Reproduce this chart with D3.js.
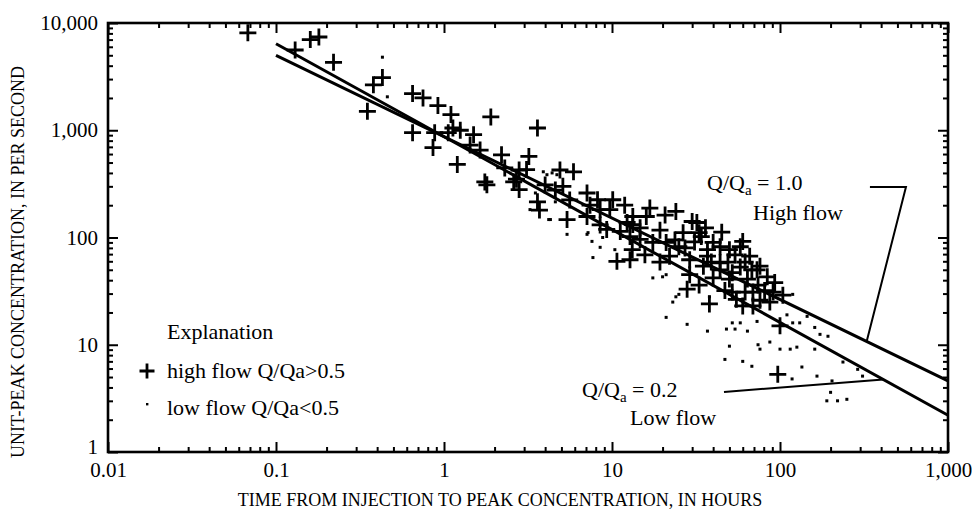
<!DOCTYPE html>
<html><head><meta charset="utf-8">
<script src="https://cdn.jsdelivr.net/npm/d3@7"></script>
<style>
body{margin:0;background:#fff}
svg{display:block}
text{font-family:"Liberation Serif","Times New Roman",Times,serif;fill:#000}
</style></head>
<body><svg id="c" width="972" height="514"></svg>
<script>
// ---- data ----
const xTickValues = [0.01, 0.1, 1, 10, 100, 1000];
const xTickLabels = ["0.01", "0.1", "1", "10", "100", "1,000"];
const yTickValues = [1, 10, 100, 1000, 10000];
const yTickLabels = ["1", "10", "100", "1,000", "10,000"];

// high flow Q/Qa>0.5  [hours, per second]
const highFlowPoints = [
 [0.068,8100],[0.16,7000],[0.18,7400],[0.13,5600],[0.22,4300],[0.38,2650],[0.43,3100],[0.35,1500],
 [0.65,2200],[0.75,2000],[0.92,1700],[1.1,1400],[0.65,950],[0.88,950],[0.86,690],[1.13,1050],
 [1.2,480],[1.9,1330],[3.6,1050],[1.25,1000],[1.5,910],[1.06,950],[1.8,310],[2.2,590],[3.2,570],
 [3.1,430],[2.7,350],[2.8,280],[5.9,410],[5.1,300],[3.6,215],[3.7,180],[5.4,147],[7.1,260],
 [8.2,225],[10.1,225],[9.7,182],[13.3,157],[12.8,102],[7.1,157],[9.3,119],[10.7,60],[13.2,77],
 [1.75,330],[2.6,330],[8.5,182],[11.2,114],[13.3,132],[16,157],[24,175],[30,141],[14.7,96],
 [17.5,90],[21,90],[25,82],[33,111],[40,90],[50,77],[58,82],[29,62],[37,67],[44,58],[52,47],
 [28,33],[38,24],[60,23],[52,31],[12.3,138],[32,138],[26.5,111],[34,102],[60,92],[44,82],[37,77],
 [66,67],[76,54],[58,53],[44,50],[35,54],[22,67],[12.8,62],[84,43],[64,41],[50,41],[40,42],
 [104,29],[69,31],[87,25],[69,23],[55,26.5],[100,15],[97,5.3],[73,50],[91,31],
 [11.9,200],[14.7,123],[16.8,188],[19.3,117],[20.7,162],[23.7,95],[27.2,80],[31,91],[36,123],
 [39,59],[45,112],[49,59],[54,69],[62,59],[68,50],[74,36],[81,32],[93,38],[29,45],[33,36],
 [47,32],[62,31],[76,26],[19.3,59],[15.7,69],[8.5,131],[7.4,200],[5.6,224],[4.6,277],[4.0,309],
 [2.8,426],[2.3,445],[1.64,654],[1.43,728],[4.9,426]
];
// low flow Q/Qa<0.5
const lowFlowPoints = [
 [0.43,4800],[0.46,2050],[3.9,410],[4.4,400],[4.3,147],[5.4,107],[7.1,107],[7.6,92],[8.8,100],
 [7.7,65],[3.25,182],[3.5,260],[4.1,385],[4.7,385],[4.6,215],[4.2,147],[7.2,111],[10.4,77],
 [17.5,42],[21,45],[24,28],[23,25],[21,18],[28,15.5],[37,13.4],[48,14],[52,16],[50,9.7],[8.5,81],
 [20,43],[25,29.5],[38,28],[73,16.5],[110,19],[119,29.5],[54,14],[64,13.4],[58,16],[119,16],
 [131,16],[145,18.4],[161,14.5],[173,12.5],[193,12],[74,10],[76,9.1],[87,10.6],[100,9.1],
 [115,9.1],[126,9.5],[161,9.1],[47,7.3],[60,7],[68,6.3],[118,4.8],[135,6.2],[166,5.1],[237,6.9],
 [290,5.9],[310,5.1],[204,4.6],[200,3.6],[190,3.0],[220,3.0],[250,3.1]
];
// fitted lines
const highFlowLine = [[0.1,5000],[1000,4.6]];   // Q/Qa = 1.0
const lowFlowLine  = [[0.1,6400],[1000,2.2]];   // Q/Qa = 0.2
// annotation leader lines (data space)
const highLeader = [[343,296],[562,296],[328,10.7]];
const lowLeader  = [[46.4,3.63],[412,4.73]];

// ---- chart ----
const svg = d3.select("#c");
const L = 108, R = 948, T = 23, B = 452;
const x = d3.scaleLog().domain([0.01,1000]).range([L,R]);
const y = d3.scaleLog().domain([1,10000]).range([B,T]);

const xMinor = x.ticks().filter(v => !xTickValues.includes(v));
const yMinor = y.ticks().filter(v => !yTickValues.includes(v));
const MAJ = 10, MIN = 5;

function styleAxis(g){
  g.select(".domain").remove();
  g.attr("font-family",null);
  g.selectAll(".tick line").attr("stroke","#000").attr("stroke-width",2);
  g.selectAll("text").attr("font-size",21).attr("fill","#000");
}
// bottom
svg.append("g").attr("transform",`translate(0,${B})`)
  .call(d3.axisBottom(x).tickValues(xTickValues).tickFormat((d,i)=>xTickLabels[i]).tickSizeInner(-MAJ).tickSizeOuter(0).tickPadding(10)).call(styleAxis);
svg.append("g").attr("transform",`translate(0,${B})`)
  .call(d3.axisBottom(x).tickValues(xMinor).tickFormat("").tickSizeInner(-MIN).tickSizeOuter(0)).call(styleAxis);
// top
svg.append("g").attr("transform",`translate(0,${T})`)
  .call(d3.axisTop(x).tickValues(xTickValues).tickFormat("").tickSizeInner(-MAJ).tickSizeOuter(0)).call(styleAxis);
svg.append("g").attr("transform",`translate(0,${T})`)
  .call(d3.axisTop(x).tickValues(xMinor).tickFormat("").tickSizeInner(-MIN).tickSizeOuter(0)).call(styleAxis);
// left
const yAx = svg.append("g").attr("transform",`translate(${L},0)`)
  .call(d3.axisLeft(y).tickValues(yTickValues).tickFormat((d,i)=>yTickLabels[i]).tickSizeInner(-MAJ).tickSizeOuter(0).tickPadding(10)).call(styleAxis);
yAx.selectAll(".tick text").filter(d=>d===1).attr("dy","0.05em");
svg.append("g").attr("transform",`translate(${L},0)`)
  .call(d3.axisLeft(y).tickValues(yMinor).tickFormat("").tickSizeInner(-MIN).tickSizeOuter(0)).call(styleAxis);
// right
svg.append("g").attr("transform",`translate(${R},0)`)
  .call(d3.axisRight(y).tickValues(yTickValues).tickFormat("").tickSizeInner(-MAJ).tickSizeOuter(0)).call(styleAxis);
svg.append("g").attr("transform",`translate(${R},0)`)
  .call(d3.axisRight(y).tickValues(yMinor).tickFormat("").tickSizeInner(-MIN).tickSizeOuter(0)).call(styleAxis);

// frame
svg.append("rect").attr("x",L).attr("y",T).attr("width",R-L).attr("height",B-T)
  .attr("fill","none").attr("stroke","#000").attr("stroke-width",2.6);

// points
const plusPath = "M-8.5,0H8.5M0,-8.5V8.5";
svg.append("g").selectAll("path").data(highFlowPoints).join("path")
  .attr("d",plusPath).attr("transform",d=>`translate(${x(d[0])},${y(d[1])})`)
  .attr("stroke","#000").attr("stroke-width",2.8).attr("fill","none");
svg.append("g").selectAll("rect").data(lowFlowPoints).join("rect")
  .attr("x",d=>x(d[0])-1.5).attr("y",d=>y(d[1])-1.5).attr("width",3).attr("height",3).attr("fill","#000");

// fitted lines
const line = d3.line().x(d=>x(d[0])).y(d=>y(d[1]));
[highFlowLine, lowFlowLine].forEach(ln=>{
  svg.append("path").attr("d",line(ln)).attr("fill","none").attr("stroke","#000").attr("stroke-width",3);
});
[highLeader, lowLeader].forEach(ln=>{
  svg.append("path").attr("d",line(ln)).attr("fill","none").attr("stroke","#000").attr("stroke-width",2);
});

// annotations
function qLabel(xp, yp, val){
  const t = svg.append("text").attr("x",xp).attr("y",yp).attr("font-size",22);
  t.append("tspan").text("Q/Q");
  t.append("tspan").text("a").attr("font-size",15).attr("dy",5);
  t.append("tspan").text(" = " + val).attr("dy",-5);
}
qLabel(707,190,"1.0");
svg.append("text").attr("x",753).attr("y",220).attr("font-size",22).text("High flow");
qLabel(582,397,"0.2");
svg.append("text").attr("x",630).attr("y",425).attr("font-size",22).text("Low flow");

// legend
svg.append("text").attr("x",167).attr("y",339).attr("font-size",22).text("Explanation");
svg.append("path").attr("d","M-7.5,0H7.5M0,-7.5V7.5").attr("transform","translate(147,371)")
  .attr("stroke","#000").attr("stroke-width",2.8);
svg.append("text").attr("x",167).attr("y",378).attr("font-size",22).text("high flow Q/Qa>0.5");
svg.append("rect").attr("x",146).attr("y",403).attr("width",2.4).attr("height",2.4).attr("fill","#000");
svg.append("text").attr("x",167).attr("y",415).attr("font-size",22).text("low flow Q/Qa<0.5");

// axis titles
svg.append("text").attr("x",(L+R)/2 - 28).attr("y",506).attr("text-anchor","middle").attr("font-size",18)
  .text("TIME FROM INJECTION TO PEAK CONCENTRATION, IN HOURS");
svg.append("text").attr("transform","translate(24,262) rotate(-90)").attr("text-anchor","middle").attr("font-size",18)
  .text("UNIT-PEAK CONCENTRATION, IN PER SECOND");
</script></body></html>
